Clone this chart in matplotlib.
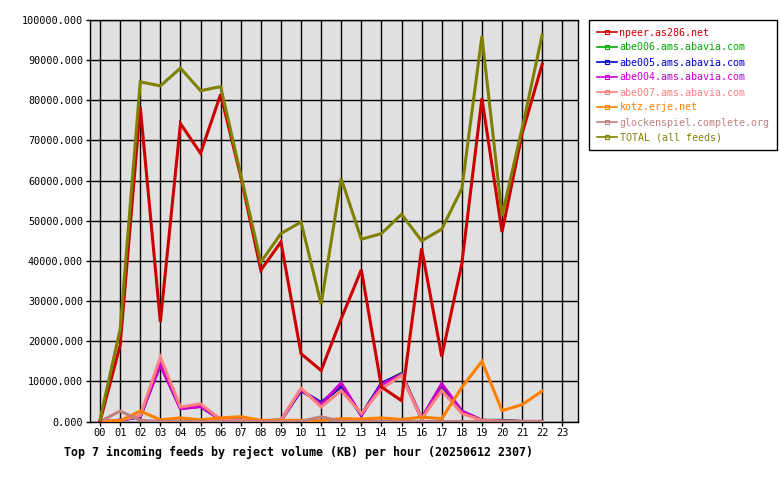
import matplotlib
matplotlib.use("Agg")
import matplotlib.pyplot as plt
from matplotlib.lines import Line2D

hours = list(range(23))
hour_labels = [f"{h:02d}" for h in range(24)]

npeer = [0, 19000, 78400, 24800, 74200, 66800, 81500, 61000, 37700, 44700, 16900, 12700,
         25600, 37800, 8600, 5200, 43100, 16200, 39300, 80500, 47200, 71700, 89000]
abe006 = [0, 300, 1200, 15000, 3300, 3800, 500, 300, 200, 300, 7800, 4600,
          8700, 1700, 9400, 12000, 700, 9000, 2500, 300, 300, 0, 0]
abe005 = [0, 300, 1200, 14500, 3300, 3800, 500, 300, 200, 300, 7700, 4700,
          8800, 1600, 9500, 11800, 700, 9100, 2500, 300, 100, 0, 0]
abe004 = [0, 300, 1300, 14000, 3200, 3700, 500, 300, 200, 300, 7900, 4300,
          9600, 1500, 9200, 11700, 700, 9400, 2600, 300, 100, 0, 0]
abe007 = [0, 300, 1500, 16000, 3600, 4400, 500, 300, 200, 300, 8300, 3600,
          7700, 2000, 8100, 11500, 700, 7700, 2000, 300, 100, 0, 0]
kotz = [0, 200, 2600, 400, 900, 400, 900, 1200, 300, 300, 300, 300,
        700, 600, 900, 500, 1100, 700, 8500, 15000, 2700, 4200, 7600]
glock = [0, 2600, 300, 0, 0, 0, 0, 0, 0, 0, 0, 1200,
         0, 0, 0, 0, 0, 0, 0, 0, 0, 0, 0]
total = [500, 23000, 84600, 83600, 88000, 82400, 83400, 61500, 39700, 46800, 49700, 29200,
         60500, 45400, 46800, 51600, 45000, 47900, 58000, 96000, 51300, 73000, 96300]

series = [
    ("npeer.as286.net", npeer, "#cc0000"),
    ("abe006.ams.abavia.com", abe006, "#00aa00"),
    ("abe005.ams.abavia.com", abe005, "#0000cc"),
    ("abe004.ams.abavia.com", abe004, "#cc00cc"),
    ("abe007.ams.abavia.com", abe007, "#ff8080"),
    ("kotz.erje.net", kotz, "#ff8000"),
    ("glockenspiel.complete.org", glock, "#c08080"),
    ("TOTAL (all feeds)", total, "#808000"),
]

title = "Top 7 incoming feeds by reject volume (KB) per hour (20250612 2307)"

mono = "DejaVu Sans Mono"
fig = plt.figure(figsize=(7.8, 4.8), dpi=100)
ax = fig.add_axes([90 / 780, 1 - 421.5 / 480, (578 - 90) / 780, 401.5 / 480])
ax.set_facecolor("#e0e0e0")

# small series first so that npeer and TOTAL sit on top
order = [1, 2, 3, 4, 5, 6, 0, 7]
for z, i in enumerate(order):
    name, vals, col = series[i]
    ax.plot(hours, vals, color=col, lw=2.2, zorder=3 + z, solid_joinstyle="miter")

ax.set_xlim(-0.5, 23.78)
ax.set_ylim(0, 100000)
ax.set_xticks(range(24))
ax.set_xticklabels(hour_labels, fontfamily=mono, fontsize=7.5)
yt = list(range(0, 100001, 10000))
ax.set_yticks(yt)
ax.set_yticklabels([f"{v:.3f}" for v in yt], fontfamily=mono, fontsize=7.3)
ax.grid(True, color="black", lw=1, zorder=1)
ax.set_axisbelow(True)
ax.tick_params(direction="out", length=3, width=1, color="black", pad=2)
for s in ax.spines.values():
    s.set_color("black")
    s.set_linewidth(1)

fig.text(64 / 780, 1 - 452 / 480, title, fontfamily=mono, fontweight="bold",
         fontsize=8.35, ha="left", va="center")

handles = [Line2D([0], [0], color=c, lw=1.2, marker="s", markersize=3,
                  markerfacecolor="none", markeredgecolor=c, markeredgewidth=0.8)
           for _, _, c in series]
leg = fig.legend(handles, [s[0] for s in series], loc="upper left",
                 bbox_to_anchor=(589 / 780, 1 - 20 / 480), frameon=True,
                 fancybox=False, edgecolor="black", framealpha=1,
                 prop={"family": mono, "size": 7.2}, handlelength=2.0,
                 handletextpad=0.3, labelspacing=0.5, borderpad=0.75,
                 borderaxespad=0)
leg.get_frame().set_linewidth(1)
for t, (_, _, c) in zip(leg.get_texts(), series):
    t.set_color(c)

fig.savefig("out.png", dpi=100)
